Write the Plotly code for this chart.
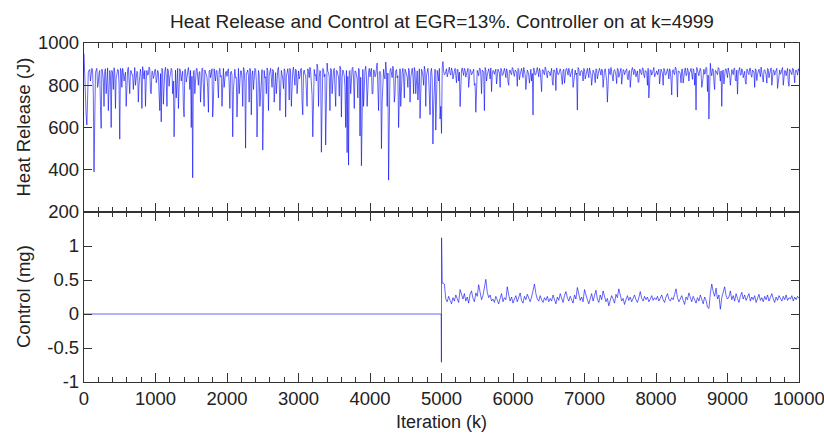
import plotly.graph_objects as go

# ---------------- data ----------------
# Heat release at k = 0, 20, 40 ... 10000 (rows of 25 = 500 iterations)
heat_release_even = [
    950, 700, 612, 860, 875, 840, 868, 390, 855, 880, 810, 870, 596, 862, 700, 878, 845, 680, 870, 600, 858, 883, 690, 850, 872,
    545, 868, 880, 820, 862, 845, 885, 760, 870, 850, 878, 800, 866, 720, 872, 840, 888, 830, 700, 870, 852, 878, 760, 865, 845,
    875, 830, 862, 680, 627, 870, 848, 885, 700, 868, 840, 880, 760, 556, 872, 845, 690, 878, 820, 866, 650, 875, 840, 884, 780,
    600, 362, 870, 840, 880, 800, 865, 850, 880, 700, 860, 838, 672, 872, 850, 650, 878, 820, 868, 740, 880, 845, 870, 790, 862,
    842, 878, 690, 866, 556, 870, 835, 650, 880, 850, 868, 700, 875, 502, 860, 845, 880, 660, 868, 830, 875, 555, 870, 700, 848,
    493, 870, 840, 882, 680, 866, 835, 875, 720, 860, 848, 885, 680, 870, 830, 878, 650, 866, 845, 880, 700, 870, 838, 876, 760,
    868, 842, 880, 660, 872, 848, 700, 866, 885, 820, 556, 875, 850, 900, 700, 870, 483, 880, 840, 517, 905, 860, 680, 875, 845,
    880, 700, 868, 840, 890, 650, 872, 845, 600, 481, 422, 870, 850, 885, 690, 866, 830, 880, 560, 419, 875, 845, 890, 700, 862,
    840, 880, 760, 870, 848, 905, 680, 866, 500, 875, 840, 910, 700, 351, 870, 850, 890, 720, 868, 835, 600, 878, 845, 880, 740,
    866, 840, 880, 720, 870, 850, 884, 760, 868, 830, 643, 876, 845, 890, 700, 870, 840, 660, 880, 522, 855, 588, 870, 820, 640,
    572, 912, 850, 878, 840, 870, 855, 882, 830, 866, 848, 876, 820, 699, 872, 852, 880, 838, 868, 790, 875, 850, 864, 800, 672,
    870, 845, 880, 760, 866, 680, 872, 848, 878, 830, 770, 870, 852, 876, 840, 868, 790, 874, 850, 880, 836, 866, 800, 872, 850,
    878, 842, 868, 795, 874, 850, 880, 836, 866, 780, 872, 848, 876, 820, 659, 870, 852, 884, 840, 868, 770, 874, 850, 878, 835,
    866, 845, 880, 800, 872, 775, 870, 852, 878, 836, 868, 810, 874, 850, 880, 840, 866, 790, 872, 850, 683, 876, 845, 870, 820,
    874, 850, 880, 836, 866, 800, 872, 848, 878, 830, 868, 852, 876, 790, 870, 845, 720, 878, 850, 866, 820, 874, 848, 880, 838,
    868, 805, 874, 850, 878, 836, 866, 790, 872, 852, 876, 840, 868, 815, 874, 850, 880, 836, 866, 800, 740, 872, 848, 878, 840,
    868, 850, 876, 836, 866, 800, 872, 850, 878, 830, 868, 754, 874, 850, 880, 744, 866, 852, 876, 810, 870, 845, 880, 820, 866,
    850, 878, 800, 683, 872, 845, 880, 790, 868, 852, 885, 770, 640, 904, 845, 876, 780, 868, 850, 880, 820, 700, 872, 848, 878,
    836, 866, 800, 874, 850, 880, 820, 758, 872, 848, 878, 836, 866, 805, 874, 850, 880, 838, 868, 790, 872, 852, 876, 840, 868,
    815, 874, 850, 880, 836, 866, 800, 872, 848, 878, 785, 868, 852, 876, 800, 870, 845, 880, 795, 866, 850, 878, 812, 872, 848,
    866,
]
# Heat release at k = 10, 30, 50 ... 9990 (rows of 25 = 500 iterations)
heat_release_odd = [
    800, 655, 840, 870, 820, 880, 760, 850, 872, 790, 858, 700, 876, 830, 866, 760, 882, 815, 845, 870, 780, 862, 838, 875, 805,
    880, 790, 860, 845, 700, 872, 825, 868, 850, 780, 884, 835, 862, 805, 876, 690, 858, 870, 820, 848, 886, 770, 866, 832, 874,
    812, 870, 760, 855, 880, 710, 866, 838, 878, 795, 852, 870, 820, 868, 740, 880, 830, 862, 848, 700, 874, 815, 868, 852, 870,
    842, 866, 760, 878, 830, 862, 720, 880, 818, 872, 848, 790, 866, 836, 878, 720, 856, 870, 812, 868, 840, 700, 880, 830, 866,
    870, 810, 862, 848, 780, 876, 838, 870, 760, 868, 830, 884, 812, 858, 872, 720, 866, 846, 780, 880, 822, 870, 850, 760, 874,
    860, 835, 760, 870, 848, 880, 790, 866, 842, 760, 876, 820, 862, 850, 784, 870, 840, 878, 730, 860, 852, 886, 800, 868, 840,
    830, 876, 720, 862, 850, 780, 878, 836, 866, 752, 872, 846, 820, 880, 838, 866, 700, 874, 852, 780, 866, 838, 880, 760, 870,
    820, 870, 850, 748, 876, 836, 862, 790, 870, 842, 866, 760, 880, 830, 868, 852, 740, 876, 838, 866, 700, 872, 846, 800, 880,
    866, 760, 872, 840, 880, 790, 862, 850, 720, 876, 830, 870, 858, 780, 880, 836, 866, 760, 874, 845, 870, 700, 862, 838, 876,
    848, 790, 870, 836, 880, 760, 866, 852, 730, 878, 840, 866, 800, 872, 846, 880, 750, 864, 830, 700, 876, 760, 850, 880, 700,
    884, 866, 852, 878, 860, 886, 848, 870, 858, 880, 812, 874, 862, 856, 882, 846, 872, 860, 880, 830, 868, 856, 876, 808, 870,
    858, 880, 848, 872, 862, 884, 820, 870, 856, 882, 850, 868, 864, 806, 876, 858, 880, 846, 872, 862, 878, 815, 870, 856, 884,
    852, 872, 862, 880, 826, 870, 858, 884, 850, 868, 864, 810, 876, 856, 882, 848, 870, 862, 880, 822, 872, 858, 886, 850, 868,
    862, 878, 818, 872, 858, 882, 850, 868, 864, 804, 876, 856, 880, 848, 870, 862, 878, 816, 872, 858, 884, 850, 868, 862, 880,
    830, 872, 858, 882, 850, 870, 864, 812, 876, 856, 880, 848, 872, 862, 878, 822, 870, 858, 884, 850, 868, 864, 808, 876, 856,
    880, 848, 872, 862, 878, 826, 870, 858, 884, 850, 868, 864, 814, 876, 856, 882, 848, 870, 862, 880, 820, 872, 858, 884, 850,
    868, 864, 806, 876, 856, 880, 848, 872, 862, 878, 824, 870, 858, 886, 850, 868, 864, 812, 876, 856, 882, 848, 870, 862, 880,
    828, 872, 858, 884, 850, 868, 864, 810, 876, 856, 880, 848, 872, 862, 878, 818, 870, 858, 884, 850, 868, 864, 806, 876, 856,
    882, 848, 870, 862, 880, 826, 872, 858, 884, 850, 868, 864, 814, 876, 856, 880, 848, 872, 862, 878, 822, 870, 858, 886, 850,
    868, 864, 810, 876, 856, 882, 848, 870, 862, 880, 828, 872, 858, 884, 850, 868, 864, 816, 876, 856, 880, 848, 870, 862, 878,
]
heat_step = 20

# Control: zero until the controller switches on at k=4999, then a transient
ctrl_start_k = [0, 4996, 4999, 5001, 5004, 5010, 5016]
ctrl_start_v = [0, 0, -0.71, 1.12, 1.08, 0.46, 0.45]
# Control after the transient, sampled every 20 iterations, k = 5020 .. 10000
ctrl_first_k = 5020
ctrl_step = 20
control_after = [
    0.46, 0.44, 0.22, 0.18, 0.26, 0.20, 0.15, 0.24, 0.19, 0.28, 0.21, 0.17, 0.36, 0.27, 0.22, 0.30, 0.19, 0.25, 0.16, 0.29, 0.34, 0.23, 0.18, 0.31, 0.26,
    0.43, 0.30, 0.21, 0.27, 0.38, 0.51, 0.32, 0.24, 0.28, 0.19, 0.22, 0.17, 0.26, 0.20, 0.15, 0.23, 0.30, 0.18, 0.24, 0.21, 0.40, 0.28, 0.19, 0.25, 0.16,
    0.22, 0.27, 0.18, 0.24, 0.31, 0.20, 0.16, 0.26, 0.21, 0.29, 0.23, 0.18, 0.25, 0.35, 0.44, 0.30, 0.22, 0.19, 0.27, 0.21, 0.17, 0.24, 0.20, 0.26, 0.18,
    0.23, 0.19, 0.28, 0.21, 0.15, 0.25, 0.20, 0.30, 0.22, 0.17, 0.27, 0.33, 0.24, 0.19, 0.26, 0.21, 0.16, 0.28, 0.22, 0.39, 0.30, 0.20, 0.25, 0.18, 0.36,
    0.27, 0.21, 0.15, 0.24, 0.30, 0.19, 0.26, 0.35, 0.22, 0.17, 0.28, 0.21, 0.34, 0.25, 0.18, 0.23, 0.12, 0.20, 0.27, 0.22, 0.16, 0.29, 0.24, 0.37, 0.26,
    0.19, 0.23, 0.14, 0.21, 0.27, 0.20, 0.25, 0.18, 0.22, 0.28, 0.21, 0.17, 0.24, 0.33, 0.23, 0.19, 0.26, 0.21, 0.25, 0.18, 0.22, 0.27, 0.20, 0.24, 0.21,
    0.26, 0.19, 0.23, 0.28, 0.21, 0.17, 0.25, 0.30, 0.22, 0.19, 0.24, 0.21, 0.29, 0.37, 0.24, 0.18, 0.22, 0.27, 0.20, 0.14, 0.25, 0.21, 0.31, 0.23, 0.18,
    0.26, 0.21, 0.16, 0.24, 0.19, 0.28, 0.22, 0.15, 0.25, 0.20, 0.10, 0.08, 0.30, 0.44, 0.33, 0.26, 0.38, 0.22, 0.28, 0.07, 0.24, 0.32, 0.40, 0.27, 0.22,
    0.25, 0.34, 0.21, 0.27, 0.19, 0.30, 0.23, 0.17, 0.26, 0.32, 0.22, 0.28, 0.20, 0.24, 0.30, 0.19, 0.25, 0.21, 0.27, 0.17, 0.23, 0.29, 0.20, 0.24, 0.18,
    0.26, 0.21, 0.28, 0.19, 0.24, 0.30, 0.22, 0.17, 0.25, 0.20, 0.27, 0.23, 0.19, 0.26, 0.21, 0.28, 0.20, 0.24, 0.22, 0.27, 0.19, 0.25, 0.21, 0.26, 0.23,
]

x_tickvals = [0, 1000, 2000, 3000, 4000, 5000, 6000, 7000, 8000, 9000, 10000]
x_ticktext = ["0", "1000", "2000", "3000", "4000", "5000", "6000", "7000", "8000", "9000", "10000"]
x_minor_step = 200
hr_tickvals = [200, 400, 600, 800, 1000]
ctrl_tickvals = [-1, -0.5, 0, 0.5, 1]
ctrl_ticktext = ["-1", "-0.5", "0", "0.5", "1"]

title_text = "Heat Release and Control at EGR=13%. Controller on at k=4999"

# ---------------- build ----------------
heat_k, heat_v = [], []
for i, v in enumerate(heat_release_even):
    heat_k.append(i * heat_step)
    heat_v.append(v)
    if i < len(heat_release_odd):
        heat_k.append(i * heat_step + heat_step // 2)
        heat_v.append(heat_release_odd[i])

ctrl_k = ctrl_start_k + [ctrl_first_k + i * ctrl_step for i in range(len(control_after))]
ctrl_v = ctrl_start_v + control_after

W, H = 824, 433
ML, MR, MT, MB = 84, 25, 43, 51
split = (382 - 212) / (382 - 43)

FONT = "Liberation Sans, Arial, sans-serif"
TXT = "#222222"
AX = "#333333"
LINE = "rgb(0,0,245)"

fig = go.Figure()
fig.add_trace(go.Scatter(x=heat_k, y=heat_v, mode="lines",
                         line=dict(color=LINE, width=0.6), xaxis="x2", yaxis="y2",
                         showlegend=False))
fig.add_trace(go.Scatter(x=ctrl_k, y=ctrl_v, mode="lines",
                         line=dict(color=LINE, width=0.6), xaxis="x", yaxis="y",
                         showlegend=False))
# invisible carriers so the minor-tick overlay axes are drawn
fig.add_trace(go.Scatter(x=ctrl_k[:2], y=ctrl_v[:2], mode="lines", opacity=0,
                         hoverinfo="skip", xaxis="x3", yaxis="y", showlegend=False))
fig.add_trace(go.Scatter(x=heat_k[:2], y=heat_v[:2], mode="lines", opacity=0,
                         hoverinfo="skip", xaxis="x4", yaxis="y2", showlegend=False))

xcommon = dict(range=[0, 10000], tickmode="array", tickvals=x_tickvals,
               ticktext=x_ticktext, ticks="inside", ticklen=9,
               tickwidth=1.3, tickcolor=AX, showline=True, linecolor=AX, linewidth=1.3,
               mirror="ticks", showgrid=False, zeroline=False,
               ticklabeloverflow="allow", automargin=False)
xminor = dict(range=[0, 10000], tickmode="linear", tick0=0, dtick=x_minor_step,
              ticks="inside", ticklen=5, tickwidth=1.3, tickcolor=AX,
              showticklabels=False, showline=False, mirror="ticks", showgrid=False,
              zeroline=False, domain=[0, 1], side="bottom", automargin=False)
ycommon = dict(ticks="inside", ticklen=8, tickwidth=1.3, tickcolor=AX, showline=True,
               linecolor=AX, linewidth=1.3, mirror="ticks", showgrid=False,
               zeroline=False, automargin=False)

fig.update_layout(
    width=W, height=H,
    margin=dict(l=ML, r=MR, t=MT, b=MB, autoexpand=False),
    paper_bgcolor="white", plot_bgcolor="white",
    font=dict(family=FONT, size=18.5, color=TXT),
    xaxis=dict(**xcommon, anchor="y", domain=[0, 1], showticklabels=True),
    xaxis2=dict(**xcommon, anchor="y2", domain=[0, 1], showticklabels=False),
    xaxis3=dict(**xminor, anchor="y", overlaying="x"),
    xaxis4=dict(**xminor, anchor="y2", overlaying="x2"),
    yaxis=dict(**ycommon, domain=[0, split], range=[-1, 1.5], tickvals=ctrl_tickvals,
               ticktext=ctrl_ticktext, anchor="x"),
    yaxis2=dict(**ycommon, domain=[split, 1], range=[200, 1000], tickvals=hr_tickvals,
                anchor="x2"),
    annotations=[
        dict(text=title_text, xref="paper", yref="paper", x=0.5, y=1, yshift=22,
             showarrow=False, font=dict(size=19, color=TXT), xanchor="center",
             yanchor="middle"),
        dict(text="Heat Release (J)", xref="paper", yref="paper", x=0, xshift=-61,
             y=(1 + split) / 2, textangle=-90, showarrow=False,
             font=dict(size=18.5, color=TXT), xanchor="center", yanchor="middle"),
        dict(text="Control (mg)", xref="paper", yref="paper", x=0, xshift=-61,
             y=split / 2, textangle=-90, showarrow=False,
             font=dict(size=18.5, color=TXT), xanchor="center", yanchor="middle"),
        dict(text="Iteration (k)", xref="paper", yref="paper", x=0.5, y=0, yshift=-40,
             showarrow=False, font=dict(size=18, color=TXT), xanchor="center",
             yanchor="middle"),
    ],
)

fig.write_html("out.html", config={"displayModeBar": False},
               post_script="document.body.style.margin='0';")
